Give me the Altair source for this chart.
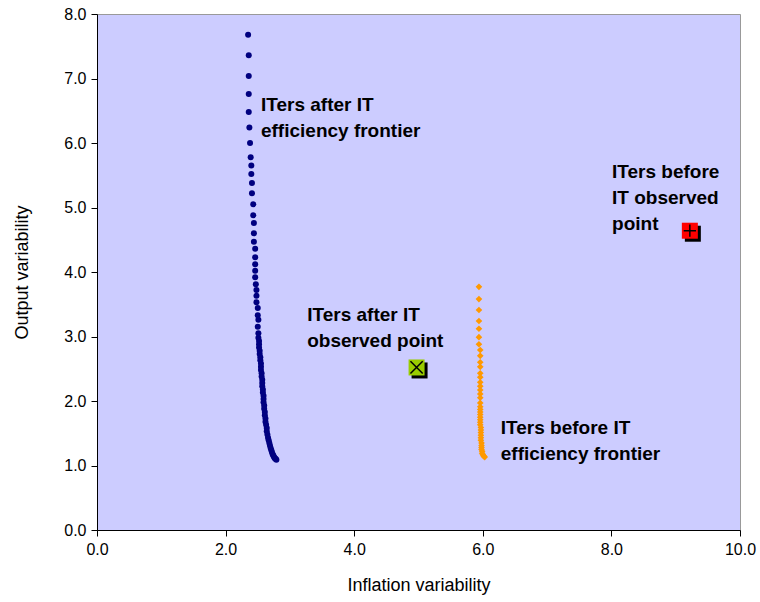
import altair as alt
import pandas as pd

# Efficiency frontier, inflation targeters after adopting IT
after_x = [2.35, 2.36, 2.36, 2.36, 2.36, 2.37, 2.38, 2.39, 2.40, 2.40, 2.41, 2.41,
           2.43, 2.43, 2.44, 2.44, 2.44, 2.46, 2.46, 2.46, 2.46, 2.46, 2.47, 2.48,
           2.48, 2.48, 2.50, 2.50, 2.51, 2.50, 2.51,
           2.51, 2.52, 2.52, 2.52, 2.53, 2.53, 2.54, 2.54, 2.55, 2.55, 2.55, 2.56,
           2.56, 2.57, 2.57, 2.57, 2.58, 2.58, 2.59, 2.59, 2.59, 2.60, 2.60, 2.61,
           2.61, 2.62, 2.62, 2.63, 2.64, 2.64, 2.65, 2.66, 2.67, 2.68, 2.69, 2.70,
           2.71, 2.72, 2.73, 2.74, 2.75, 2.76, 2.77, 2.78, 2.79]
after_y = [7.68, 7.36, 7.04, 6.76, 6.48, 6.24, 6.00, 5.78, 5.65, 5.52, 5.38, 5.22,
           5.05, 4.88, 4.76, 4.60, 4.47, 4.36, 4.23, 4.12, 4.02, 3.92, 3.81, 3.72,
           3.63, 3.53, 3.44, 3.33, 3.26, 3.15, 3.05,
           2.98, 2.93, 2.88, 2.83, 2.78, 2.73, 2.68, 2.63, 2.58, 2.53, 2.48, 2.43,
           2.38, 2.33, 2.28, 2.23, 2.18, 2.13, 2.08, 2.03, 1.98, 1.93, 1.88, 1.83,
           1.78, 1.73, 1.68, 1.63, 1.58, 1.53, 1.48, 1.43, 1.39, 1.35, 1.31, 1.27,
           1.24, 1.21, 1.18, 1.16, 1.14, 1.12, 1.11, 1.10, 1.09]

# Efficiency frontier, inflation targeters before adopting IT
before_x = [5.94, 5.94, 5.94, 5.94, 5.94, 5.94, 5.94, 5.96, 5.96, 5.96, 5.96, 5.96,
            5.96, 5.96, 5.96, 5.96, 5.96, 5.96, 5.96, 5.96,
            5.96, 5.96, 5.96, 5.96, 5.96, 5.96, 5.96, 5.97, 5.97, 5.97, 5.97, 5.97,
            5.97, 5.98, 5.98, 5.98, 5.98, 5.99, 5.99, 6.00, 6.01, 6.02, 6.03]
before_y = [3.77, 3.58, 3.41, 3.24, 3.12, 2.99, 2.88, 2.79, 2.70, 2.60, 2.53, 2.43,
            2.37, 2.29, 2.23, 2.17, 2.11, 2.05, 1.97, 1.91,
            1.87, 1.83, 1.79, 1.75, 1.71, 1.67, 1.63, 1.59, 1.55, 1.51, 1.47, 1.43,
            1.39, 1.35, 1.31, 1.28, 1.25, 1.22, 1.19, 1.17, 1.15, 1.14, 1.13]

# Observed points
obs_after = (4.97, 2.52)
obs_before = (9.22, 4.64)

# Annotation lines: (x, y of baseline, text)
label_x = [2.55, 2.55, 3.27, 3.27, 6.28, 6.28, 8.01, 8.01, 8.01]
label_y = [6.50, 6.09, 3.24, 2.84, 1.49, 1.09, 5.46, 5.05, 4.65]
label_text = ["ITers after IT", "efficiency frontier",
              "ITers after IT", "observed point",
              "ITers before IT", "efficiency frontier",
              "ITers before", "IT observed", "point"]

FONT = "Liberation Sans"

xs = alt.Scale(domain=[0, 10], nice=False, zero=False)
ys = alt.Scale(domain=[0, 8], nice=False, zero=False)

x_axis = alt.Axis(title="Inflation variability", values=[0, 2, 4, 6, 8, 10], format=".1f",
                  grid=False, domainColor="black", tickColor="black", tickSize=6,
                  labelFontSize=16, labelColor="black", labelFont=FONT, labelPadding=5,
                  labelFlush=False, labelOverlap=False,
                  titleFont=FONT, titleFontSize=18, titleFontWeight="normal",
                  titleColor="black", titleY=55, titleBaseline="middle")
y_axis = alt.Axis(title="Output variability", values=[0, 1, 2, 3, 4, 5, 6, 7, 8], format=".1f",
                  grid=False, domainColor="black", tickColor="black", tickSize=6,
                  labelFontSize=16, labelColor="black", labelFont=FONT, labelPadding=5,
                  labelFlush=False, labelOverlap=False,
                  titleFont=FONT, titleFontSize=18, titleFontWeight="normal",
                  titleColor="black", titleX=-75, titleY=258, titleBaseline="middle",
                  titleAngle=-90, titleAlign="center")

after_df = pd.DataFrame({"x": after_x, "y": after_y})
before_df = pd.DataFrame({"x": before_x, "y": before_y})
obs_a_df = pd.DataFrame({"x": [obs_after[0]], "y": [obs_after[1]]})
obs_b_df = pd.DataFrame({"x": [obs_before[0]], "y": [obs_before[1]]})
labels_df = pd.DataFrame({"x": label_x, "y": label_y, "text": label_text})

after_pts = alt.Chart(after_df).mark_point(
    shape="circle", filled=True, size=36, color="#000080", opacity=1
).encode(x=alt.X("x:Q", scale=xs, axis=x_axis), y=alt.Y("y:Q", scale=ys, axis=y_axis))

before_pts = alt.Chart(before_df).mark_point(
    shape="diamond", filled=True, size=44, color="#FF9900", opacity=1
).encode(x=alt.X("x:Q", scale=xs), y=alt.Y("y:Q", scale=ys))


def observed(df, fill, glyph):
    enc = dict(x=alt.X("x:Q", scale=xs), y=alt.Y("y:Q", scale=ys))
    shadow = alt.Chart(df).mark_point(
        shape="square", filled=True, size=256, color="black", opacity=1,
        xOffset=3, yOffset=3
    ).encode(**enc)
    box = alt.Chart(df).mark_point(
        shape="square", filled=True, size=256, color=fill, opacity=1
    ).encode(**enc)
    mark = alt.Chart(df).mark_point(
        shape=glyph, filled=False, size=150, color="black", strokeWidth=1.5, opacity=1
    ).encode(**enc)
    return shadow + box + mark


obs_a = observed(obs_a_df, "#99CC00", "M-1,-1L1,1M-1,1L1,-1")
obs_b = observed(obs_b_df, "#FF0000", "M-1,0L1,0M0,-1L0,1")

labels = alt.Chart(labels_df).mark_text(
    align="left", baseline="alphabetic", font=FONT, fontSize=19, fontWeight="bold",
    color="black"
).encode(x=alt.X("x:Q", scale=xs), y=alt.Y("y:Q", scale=ys), text="text:N")

chart = alt.layer(after_pts, before_pts, obs_a, obs_b, labels).properties(
    width=643, height=516,
    autosize=alt.AutoSizeParams(type="none"),
    padding={"left": 97, "top": 14, "right": 20, "bottom": 72},
    background="white",
).configure_view(
    fill="#CCCCFF", stroke="#999999", strokeWidth=1
)

chart.save("out.html", embed_options={"renderer": "svg", "actions": False})
